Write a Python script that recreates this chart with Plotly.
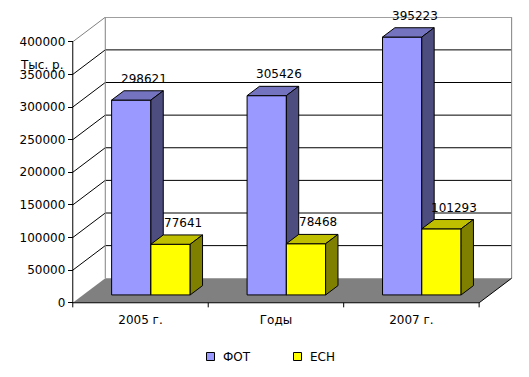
import plotly.graph_objects as go

# ---------------- data ----------------
categories = ["2005 г.", "Годы", "2007 г."]
series_names = ["ФОТ", "ЕСН"]
fot_values = [298621, 305426, 395223]
esn_values = [77641, 78468, 101293]
y_ticks = [0, 50000, 100000, 150000, 200000, 250000, 300000, 350000, 400000]
y_title = "Тыс. р."

# ---------------- styling / geometry ----------------
W, H = 529, 377
PAGE_OFF = 8          # browser body margin offset
# target plot area in page pixels: left 66, top 17, width 447, height 291
PW, PH = 447, 291
ML = 66 - PAGE_OFF
MT = 17 - PAGE_OFF
MR = W - ML - PW
MB = H - MT - PH
X_RANGE = [-0.05, 3.25]
Y_RANGE = [-8000, 438000]
DX = 0.24        # depth offset in category units
DY = 37600       # depth offset in value units
BAR_FRONT = 0.32
BAR_BACK = 0.70
GROUP_START = 0.21
BAR_W = 0.29
Y_MAX = y_ticks[-1]
NCAT = len(categories)

FONT = "DejaVu Sans"
face_colors = [
    dict(front="#9999FF", top="#7373BF", side="#4D4D80"),
    dict(front="#FFFF00", top="#BFBF00", side="#808000"),
]
series_values = [fot_values, esn_values]


def px_to_paper_x(px):
    return (px - PAGE_OFF - ML) / PW


def px_to_paper_y(py):
    return (MT + PH - (py - PAGE_OFF)) / PH


fig = go.Figure()


def poly(xs, ys, fill=None, line_color="black", width=1):
    kw = dict(x=xs, y=ys, mode="lines", showlegend=False, hoverinfo="skip",
              line=dict(color=line_color, width=width))
    if fill is not None:
        kw.update(fill="toself", fillcolor=fill)
    fig.add_trace(go.Scatter(**kw))


# walls: gridlines on left wall + back wall
for t in y_ticks[1:-1]:
    poly([0, DX, NCAT + DX], [t, t + DY, t + DY])
# wall borders (gray)
poly([0, DX, NCAT + DX, NCAT + DX], [Y_MAX, Y_MAX + DY, Y_MAX + DY, DY], line_color="#808080")
poly([DX, DX], [DY, Y_MAX + DY], line_color="#808080")

# floor
poly([0, NCAT, NCAT + DX, DX, 0], [0, 0, DY, DY, 0], fill="#808080", line_color="rgba(0,0,0,0)")
poly([NCAT, NCAT + DX], [0, DY])
poly([0, NCAT], [0, 0])
# y axis line
poly([0, 0], [0, Y_MAX])
# x category tick marks
for j in range(NCAT + 1):
    poly([j, j], [0, -7000])

# bars
annotations = []
for i in range(NCAT):
    for k, vals in enumerate(series_values):
        v = vals[i]
        c = face_colors[k]
        x0 = i + GROUP_START + k * BAR_W
        x1 = x0 + BAR_W
        f, b = BAR_FRONT, BAR_BACK
        # front
        poly([x0 + f * DX, x1 + f * DX, x1 + f * DX, x0 + f * DX, x0 + f * DX],
             [f * DY, f * DY, v + f * DY, v + f * DY, f * DY], fill=c["front"])
        # top
        poly([x0 + f * DX, x1 + f * DX, x1 + b * DX, x0 + b * DX, x0 + f * DX],
             [v + f * DY, v + f * DY, v + b * DY, v + b * DY, v + f * DY], fill=c["top"])
        # side
        poly([x1 + f * DX, x1 + b * DX, x1 + b * DX, x1 + f * DX, x1 + f * DX],
             [f * DY, b * DY, v + b * DY, v + f * DY, f * DY], fill=c["side"])
        annotations.append(dict(
            x=x0 + BAR_W / 2 + b * DX, y=v + b * DY, xref="x", yref="y",
            text=str(v), showarrow=False, yanchor="bottom", xanchor="center",
            yshift=3, font=dict(family=FONT, size=12, color="black")))

# axis title
annotations.append(dict(
    x=px_to_paper_x(18), y=px_to_paper_y(65), xref="paper", yref="paper",
    text=y_title, showarrow=False, xanchor="left", yanchor="middle",
    font=dict(family=FONT, size=12, color="black")))

# manual legend
shapes = []
legend_items = [(206.5, 220.5), (293.5, 307.5)]
for (sx, tx), name, c in zip(legend_items, series_names, face_colors):
    shapes.append(dict(type="rect", xref="paper", yref="paper",
                       x0=px_to_paper_x(sx), x1=px_to_paper_x(sx + 8),
                       y0=px_to_paper_y(352.5), y1=px_to_paper_y(360.5),
                       fillcolor=c["front"], line=dict(color="black", width=1)))
    annotations.append(dict(
        x=px_to_paper_x(tx), y=px_to_paper_y(356.5), xref="paper", yref="paper",
        text=name, showarrow=False, xanchor="left", yanchor="middle",
        font=dict(family=FONT, size=12, color="black")))

fig.update_layout(
    template="none",
    width=W, height=H,
    margin=dict(l=ML, r=MR, t=MT, b=MB, pad=0, autoexpand=False),
    paper_bgcolor="white", plot_bgcolor="white",
    showlegend=False,
    font=dict(family=FONT, size=12, color="black"),
    xaxis=dict(range=X_RANGE, showgrid=False, zeroline=False, showline=False,
               automargin=False,
               tickmode="array", tickvals=[i + 0.5 for i in range(NCAT)],
               ticktext=categories, ticks="outside", ticklen=6,
               tickcolor="rgba(0,0,0,0)", anchor="free",
               position=px_to_paper_y(302.8),
               tickfont=dict(family=FONT, size=12, color="black")),
    yaxis=dict(range=Y_RANGE, showgrid=False, zeroline=False, showline=False,
               automargin=False,
               tickmode="array", tickvals=y_ticks, ticktext=[str(t) for t in y_ticks],
               ticks="outside", ticklen=5, tickcolor="black", tickwidth=1,
               anchor="free", position=px_to_paper_x(72.8),
               tickfont=dict(family=FONT, size=12, color="black")),
    annotations=annotations,
    shapes=shapes,
)

fig.write_html("out.html")
